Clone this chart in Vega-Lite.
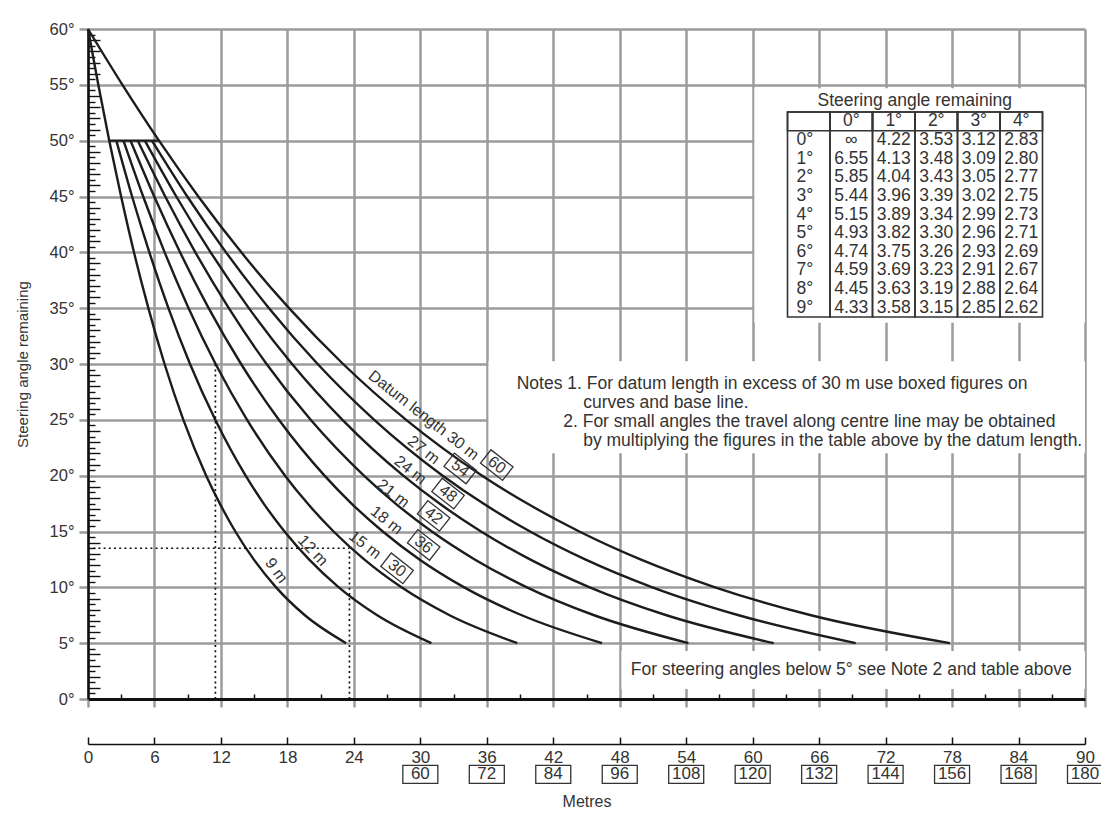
{
  "$schema": "https://vega.github.io/schema/vega-lite/v6.json",
  "width": 997,
  "height": 670,
  "autosize": {"type": "none"},
  "padding": {"left": 88, "top": 29, "right": 16, "bottom": 129},
  "background": "white",
  "config": {
    "view": {"stroke": null},
    "font": "Liberation Sans",
    "text": {"font": "Liberation Sans", "color": "#333"},
    "axis": {"labelFont": "Liberation Sans", "titleFont": "Liberation Sans"}
  },
  "datasets": {
    "curves": [
      {"L": "9 m", "m": 0, "a": 60}, {"L": "9 m", "m": 0.93, "a": 55}, {"L": "9 m", "m": 1.92, "a": 50}, {"L": "9 m", "m": 2.99, "a": 45}, {"L": "9 m", "m": 4.15, "a": 40}, {"L": "9 m", "m": 5.45, "a": 35}, {"L": "9 m", "m": 6.91, "a": 30}, {"L": "9 m", "m": 8.61, "a": 25}, {"L": "9 m", "m": 10.67, "a": 20}, {"L": "9 m", "m": 11.9, "a": 17.5}, {"L": "9 m", "m": 13.3, "a": 15}, {"L": "9 m", "m": 14.96, "a": 12.5}, {"L": "9 m", "m": 16.98, "a": 10}, {"L": "9 m", "m": 19.58, "a": 7.5}, {"L": "9 m", "m": 23.3, "a": 5},
      {"L": "12 m", "m": 2.56, "a": 50}, {"L": "12 m", "m": 3.98, "a": 45}, {"L": "12 m", "m": 5.54, "a": 40}, {"L": "12 m", "m": 7.26, "a": 35}, {"L": "12 m", "m": 9.21, "a": 30}, {"L": "12 m", "m": 11.49, "a": 25}, {"L": "12 m", "m": 14.23, "a": 20}, {"L": "12 m", "m": 15.86, "a": 17.5}, {"L": "12 m", "m": 17.74, "a": 15}, {"L": "12 m", "m": 19.95, "a": 12.5}, {"L": "12 m", "m": 22.64, "a": 10}, {"L": "12 m", "m": 26.11, "a": 7.5}, {"L": "12 m", "m": 31.0, "a": 5},
      {"L": "15 m", "m": 3.2, "a": 50}, {"L": "15 m", "m": 4.98, "a": 45}, {"L": "15 m", "m": 6.92, "a": 40}, {"L": "15 m", "m": 9.08, "a": 35}, {"L": "15 m", "m": 11.52, "a": 30}, {"L": "15 m", "m": 14.36, "a": 25}, {"L": "15 m", "m": 17.79, "a": 20}, {"L": "15 m", "m": 19.83, "a": 17.5}, {"L": "15 m", "m": 22.17, "a": 15}, {"L": "15 m", "m": 24.93, "a": 12.5}, {"L": "15 m", "m": 28.3, "a": 10}, {"L": "15 m", "m": 32.64, "a": 7.5}, {"L": "15 m", "m": 38.75, "a": 5},
      {"L": "18 m", "m": 3.84, "a": 50}, {"L": "18 m", "m": 5.98, "a": 45}, {"L": "18 m", "m": 8.31, "a": 40}, {"L": "18 m", "m": 10.89, "a": 35}, {"L": "18 m", "m": 13.82, "a": 30}, {"L": "18 m", "m": 17.23, "a": 25}, {"L": "18 m", "m": 21.35, "a": 20}, {"L": "18 m", "m": 23.79, "a": 17.5}, {"L": "18 m", "m": 26.61, "a": 15}, {"L": "18 m", "m": 29.92, "a": 12.5}, {"L": "18 m", "m": 33.96, "a": 10}, {"L": "18 m", "m": 39.16, "a": 7.5}, {"L": "18 m", "m": 46.4, "a": 5},
      {"L": "21 m", "m": 4.49, "a": 50}, {"L": "21 m", "m": 6.97, "a": 45}, {"L": "21 m", "m": 9.69, "a": 40}, {"L": "21 m", "m": 12.71, "a": 35}, {"L": "21 m", "m": 16.12, "a": 30}, {"L": "21 m", "m": 20.1, "a": 25}, {"L": "21 m", "m": 24.91, "a": 20}, {"L": "21 m", "m": 27.76, "a": 17.5}, {"L": "21 m", "m": 31.04, "a": 15}, {"L": "21 m", "m": 34.91, "a": 12.5}, {"L": "21 m", "m": 39.62, "a": 10}, {"L": "21 m", "m": 45.69, "a": 7.5}, {"L": "21 m", "m": 54.2, "a": 5},
      {"L": "24 m", "m": 5.13, "a": 50}, {"L": "24 m", "m": 7.97, "a": 45}, {"L": "24 m", "m": 11.07, "a": 40}, {"L": "24 m", "m": 14.52, "a": 35}, {"L": "24 m", "m": 18.42, "a": 30}, {"L": "24 m", "m": 22.97, "a": 25}, {"L": "24 m", "m": 28.46, "a": 20}, {"L": "24 m", "m": 31.73, "a": 17.5}, {"L": "24 m", "m": 35.48, "a": 15}, {"L": "24 m", "m": 39.9, "a": 12.5}, {"L": "24 m", "m": 45.29, "a": 10}, {"L": "24 m", "m": 52.22, "a": 7.5}, {"L": "24 m", "m": 61.9, "a": 5},
      {"L": "27 m", "m": 5.77, "a": 50}, {"L": "27 m", "m": 8.96, "a": 45}, {"L": "27 m", "m": 12.46, "a": 40}, {"L": "27 m", "m": 16.34, "a": 35}, {"L": "27 m", "m": 20.73, "a": 30}, {"L": "27 m", "m": 25.84, "a": 25}, {"L": "27 m", "m": 32.02, "a": 20}, {"L": "27 m", "m": 35.69, "a": 17.5}, {"L": "27 m", "m": 39.91, "a": 15}, {"L": "27 m", "m": 44.88, "a": 12.5}, {"L": "27 m", "m": 50.95, "a": 10}, {"L": "27 m", "m": 58.74, "a": 7.5}, {"L": "27 m", "m": 69.3, "a": 5},
      {"L": "30 m", "m": 0, "a": 60}, {"L": "30 m", "m": 3.11, "a": 55}, {"L": "30 m", "m": 6.41, "a": 50}, {"L": "30 m", "m": 9.96, "a": 45}, {"L": "30 m", "m": 13.84, "a": 40}, {"L": "30 m", "m": 18.15, "a": 35}, {"L": "30 m", "m": 23.03, "a": 30}, {"L": "30 m", "m": 28.72, "a": 25}, {"L": "30 m", "m": 35.58, "a": 20}, {"L": "30 m", "m": 39.66, "a": 17.5}, {"L": "30 m", "m": 44.35, "a": 15}, {"L": "30 m", "m": 49.87, "a": 12.5}, {"L": "30 m", "m": 56.61, "a": 10}, {"L": "30 m", "m": 65.27, "a": 7.5}, {"L": "30 m", "m": 77.8, "a": 5}
    ],
    "bar50": [{"x0": 1.92, "x1": 6.41, "a": 50}],
    "dotted": [
      {"x0": 11.5, "x1": 11.5, "y0": 0, "y1": 30},
      {"x0": 23.6, "x1": 23.6, "y0": 0, "y1": 13.5},
      {"x0": 0, "x1": 23.6, "y0": 13.5, "y1": 13.5}
    ],
    "masks": [
      {"x0": 60.15, "x1": 90, "y0": 33.7, "y1": 54.7},
      {"x0": 36.15, "x1": 90, "y0": 22.0, "y1": 30.25},
      {"x0": 48.15, "x1": 90, "y0": 0.9, "y1": 4.3}
    ],
    "curveNames": [
      {"t": "Datum length 30 m", "m": 30.3, "a": 25.4},
      {"t": "27 m", "m": 30.3, "a": 22.3},
      {"t": "24 m", "m": 29.1, "a": 20.5},
      {"t": "21 m", "m": 27.55, "a": 18.4},
      {"t": "18 m", "m": 26.95, "a": 16.0},
      {"t": "15 m", "m": 25.0, "a": 13.8},
      {"t": "12 m", "m": 20.3, "a": 13.3},
      {"t": "9 m", "m": 17.0, "a": 11.5}
    ],
    "curveBoxes": [
      {"t": "60", "m": 36.9, "a": 20.95},
      {"t": "54", "m": 33.6, "a": 20.65},
      {"t": "48", "m": 32.5, "a": 18.4},
      {"t": "42", "m": 31.2, "a": 16.4},
      {"t": "36", "m": 30.3, "a": 13.8},
      {"t": "30", "m": 27.9, "a": 11.7}
    ],
    "baseBoxes": [
      {"m": 30, "t": "60"}, {"m": 36, "t": "72"}, {"m": 42, "t": "84"}, {"m": 48, "t": "96"}, {"m": 54, "t": "108"}, {"m": 60, "t": "120"}, {"m": 66, "t": "132"}, {"m": 72, "t": "144"}, {"m": 78, "t": "156"}, {"m": 84, "t": "168"}, {"m": 90, "t": "180"}
    ],
    "notes": [
      {"t": "Notes 1. For datum length in excess of 30 m use boxed figures on", "m": 38.7, "a": 28.2},
      {"t": "curves and base line.", "m": 44.7, "a": 26.5},
      {"t": "2. For small angles the travel along centre line may be obtained", "m": 42.9, "a": 24.8},
      {"t": "by multiplying the figures in the table above by the datum length.", "m": 44.7, "a": 23.1},
      {"t": "For steering angles below 5° see Note 2 and table above", "m": 49.0, "a": 2.6}
    ],
    "tableTitle": [{"t": "Steering angle remaining"}],
    "table": [
      {"row": "0°", "0°": "∞", "1°": "4.22", "2°": "3.53", "3°": "3.12", "4°": "2.83"},
      {"row": "1°", "0°": "6.55", "1°": "4.13", "2°": "3.48", "3°": "3.09", "4°": "2.80"},
      {"row": "2°", "0°": "5.85", "1°": "4.04", "2°": "3.43", "3°": "3.05", "4°": "2.77"},
      {"row": "3°", "0°": "5.44", "1°": "3.96", "2°": "3.39", "3°": "3.02", "4°": "2.75"},
      {"row": "4°", "0°": "5.15", "1°": "3.89", "2°": "3.34", "3°": "2.99", "4°": "2.73"},
      {"row": "5°", "0°": "4.93", "1°": "3.82", "2°": "3.30", "3°": "2.96", "4°": "2.71"},
      {"row": "6°", "0°": "4.74", "1°": "3.75", "2°": "3.26", "3°": "2.93", "4°": "2.69"},
      {"row": "7°", "0°": "4.59", "1°": "3.69", "2°": "3.23", "3°": "2.91", "4°": "2.67"},
      {"row": "8°", "0°": "4.45", "1°": "3.63", "2°": "3.19", "3°": "2.88", "4°": "2.64"},
      {"row": "9°", "0°": "4.33", "1°": "3.58", "2°": "3.15", "3°": "2.85", "4°": "2.62"}
    ],
    "tableCols": [{"c": "lab"}, {"c": "0°"}, {"c": "1°"}, {"c": "2°"}, {"c": "3°"}, {"c": "4°"}],
    "tableHeads": [{"c": "0°"}, {"c": "1°"}, {"c": "2°"}, {"c": "3°"}, {"c": "4°"}]
  },
  "layer": [
    {
      "layer": [
        {
          "data": {"name": "masks"},
          "mark": {"type": "rect", "fill": "white"},
          "encoding": {
            "x": {"field": "x0", "type": "quantitative", "scale": {"domain": [0, 90], "nice": false, "zero": false},
              "axis": {"orient": "bottom", "values": [0, 6, 12, 18, 24, 30, 36, 42, 48, 54, 60, 66, 72, 78, 84, 90], "grid": true, "gridColor": "#9b9b9b", "gridWidth": 2.5, "ticks": true, "tickSize": 8, "tickColor": "#9b9b9b", "tickWidth": 2.5, "labels": false, "domain": true, "domainColor": "#111", "domainWidth": 3, "title": null}},
            "x2": {"field": "x1"},
            "y": {"field": "y0", "type": "quantitative", "scale": {"domain": [0, 60], "nice": false, "zero": false},
              "axis": {"orient": "left", "values": [0, 5, 10, 15, 20, 25, 30, 35, 40, 45, 50, 55, 60], "grid": true, "gridColor": "#9b9b9b", "gridWidth": 2.5, "tickSize": 9, "tickColor": "#9b9b9b", "tickWidth": 2.5, "domain": true, "domainColor": "#111", "domainWidth": 2.5, "labelExpr": "datum.value + '°'", "labelFontSize": 16.5, "labelColor": "#333", "labelPadding": 5, "title": "Steering angle remaining", "titleFontSize": 15, "titleFontWeight": "normal", "titleColor": "#333", "titlePadding": 19}},
            "y2": {"field": "y1"}
          }
        },
        {
          "data": {"name": "curves"},
          "mark": {"type": "line", "stroke": "#1c1c1c", "strokeWidth": 2.4, "interpolate": "monotone"},
          "encoding": {
            "x": {"field": "m", "type": "quantitative", "scale": {"domain": [0, 90], "nice": false, "zero": false},
              "axis": {"orient": "bottom", "values": [3, 9, 15, 21, 27, 33, 39, 45, 51, 57, 63, 69, 75, 81, 87], "grid": false, "domain": false, "labels": false, "tickSize": -5, "tickColor": "#111", "tickWidth": 1.5, "title": null}},
            "y": {"field": "a", "type": "quantitative", "scale": {"domain": [0, 60], "nice": false, "zero": false},
              "axis": {"orient": "left", "values": [0.5,1,1.5,2,2.5,3,3.5,4,4.5,5.5,6,6.5,7,7.5,8,8.5,9,9.5,10.5,11,11.5,12,12.5,13,13.5,14,14.5,15.5,16,16.5,17,17.5,18,18.5,19,19.5,20.5,21,21.5,22,22.5,23,23.5,24,24.5,25.5,26,26.5,27,27.5,28,28.5,29,29.5,30.5,31,31.5,32,32.5,33,33.5,34,34.5,35.5,36,36.5,37,37.5,38,38.5,39,39.5,40.5,41,41.5,42,42.5,43,43.5,44,44.5,45.5,46,46.5,47,47.5,48,48.5,49,49.5,50.5,51,51.5,52,52.5,53,53.5,54,54.5,55.5,56,56.5,57,57.5,58,58.5,59,59.5], "grid": false, "domain": false, "labels": false, "tickSize": {"condition": {"test": "datum.value % 1 === 0", "value": -12}, "value": -7}, "tickColor": "#111", "tickWidth": 1.4, "title": null}},
            "detail": {"field": "L", "type": "nominal"}
          }
        },
        {
          "data": {"name": "bar50"},
          "mark": {"type": "rule", "stroke": "#1c1c1c", "strokeWidth": 2.4},
          "encoding": {
            "x": {"field": "x0", "type": "quantitative", "scale": {"domain": [0, 90], "nice": false, "zero": false},
              "axis": {"orient": "bottom", "offset": 45, "values": [0, 6, 12, 18, 24, 30, 36, 42, 48, 54, 60, 66, 72, 78, 84, 90], "grid": false, "domain": true, "domainColor": "#111", "domainWidth": 1.5, "tickSize": -7, "tickColor": "#111", "tickWidth": 1.5, "labels": true, "labelFlush": false, "labelOverlap": false, "labelFontSize": 17, "labelColor": "#333", "labelPadding": 12, "title": "Metres", "titleFontSize": 16, "titleFontWeight": "normal", "titleColor": "#333", "titlePadding": 28}},
            "x2": {"field": "x1"},
            "y": {"field": "a", "type": "quantitative", "scale": {"domain": [0, 60], "nice": false, "zero": false}, "axis": null}
          }
        },
        {
          "data": {"name": "dotted"},
          "mark": {"type": "rule", "stroke": "#111", "strokeWidth": 1.7, "strokeDash": [2, 3.2]},
          "encoding": {
            "x": {"field": "x0", "type": "quantitative", "scale": {"domain": [0, 90], "nice": false, "zero": false}, "axis": null},
            "x2": {"field": "x1"},
            "y": {"field": "y0", "type": "quantitative", "scale": {"domain": [0, 60], "nice": false, "zero": false}, "axis": null},
            "y2": {"field": "y1"}
          }
        },
        {
          "mark": {"type": "rule", "stroke": "#222", "strokeWidth": 1.6},
          "encoding": {
            "x": {"datum": 90, "type": "quantitative", "scale": {"domain": [0, 90], "nice": false, "zero": false}, "axis": null},
            "y": {"datum": 0, "type": "quantitative", "scale": {"domain": [0, 60], "nice": false, "zero": false}, "axis": null},
            "y2": {"datum": 61.95}
          }
        },
        {
          "mark": {"type": "rule", "stroke": "#000", "strokeWidth": 5},
          "encoding": {
            "x": {"datum": -7.1, "type": "quantitative", "scale": {"domain": [0, 90], "nice": false, "zero": false}, "axis": null},
            "y": {"datum": 62.2, "type": "quantitative", "scale": {"domain": [0, 60], "nice": false, "zero": false}, "axis": null},
            "y2": {"datum": -11.7}
          }
        },
        {
          "mark": {"type": "rule", "stroke": "#000", "strokeWidth": 4.5},
          "encoding": {
            "x": {"datum": -7.35, "type": "quantitative", "scale": {"domain": [0, 90], "nice": false, "zero": false}, "axis": null},
            "x2": {"datum": 91.6},
            "y": {"datum": 61.95, "type": "quantitative", "scale": {"domain": [0, 60], "nice": false, "zero": false}, "axis": null}
          }
        },
        {
          "data": {"name": "curveNames"},
          "transform": [{"filter": "datum.t !== '12 m' && datum.t !== '9 m'"}],
          "mark": {"type": "text", "angle": 38, "fontSize": 16, "color": "#333", "align": "center", "baseline": "middle"},
          "encoding": {
            "x": {"field": "m", "type": "quantitative", "scale": {"domain": [0, 90], "nice": false, "zero": false}, "axis": null},
            "y": {"field": "a", "type": "quantitative", "scale": {"domain": [0, 60], "nice": false, "zero": false}, "axis": null},
            "text": {"field": "t"}
          }
        },
        {
          "data": {"name": "curveNames"},
          "transform": [{"filter": "datum.t === '12 m'"}],
          "mark": {"type": "text", "angle": 47, "fontSize": 16, "color": "#333", "align": "center", "baseline": "middle"},
          "encoding": {
            "x": {"field": "m", "type": "quantitative", "scale": {"domain": [0, 90], "nice": false, "zero": false}, "axis": null},
            "y": {"field": "a", "type": "quantitative", "scale": {"domain": [0, 60], "nice": false, "zero": false}, "axis": null},
            "text": {"field": "t"}
          }
        },
        {
          "data": {"name": "curveNames"},
          "transform": [{"filter": "datum.t === '9 m'"}],
          "mark": {"type": "text", "angle": 54, "fontSize": 16, "color": "#333", "align": "center", "baseline": "middle"},
          "encoding": {
            "x": {"field": "m", "type": "quantitative", "scale": {"domain": [0, 90], "nice": false, "zero": false}, "axis": null},
            "y": {"field": "a", "type": "quantitative", "scale": {"domain": [0, 60], "nice": false, "zero": false}, "axis": null},
            "text": {"field": "t"}
          }
        },
        {
          "data": {"name": "curveBoxes"},
          "mark": {"type": "point", "shape": "M-1,-0.607L1,-0.607L1,0.607L-1,0.607Z", "size": 784, "angle": 38, "filled": false, "stroke": "#333", "strokeWidth": 1.3, "opacity": 1},
          "encoding": {
            "x": {"field": "m", "type": "quantitative", "scale": {"domain": [0, 90], "nice": false, "zero": false}, "axis": null},
            "y": {"field": "a", "type": "quantitative", "scale": {"domain": [0, 60], "nice": false, "zero": false}, "axis": null}
          }
        },
        {
          "data": {"name": "curveBoxes"},
          "mark": {"type": "text", "angle": 38, "fontSize": 16, "color": "#333", "align": "center", "baseline": "middle"},
          "encoding": {
            "x": {"field": "m", "type": "quantitative", "scale": {"domain": [0, 90], "nice": false, "zero": false}, "axis": null},
            "y": {"field": "a", "type": "quantitative", "scale": {"domain": [0, 60], "nice": false, "zero": false}, "axis": null},
            "text": {"field": "t"}
          }
        },
        {
          "data": {"name": "baseBoxes"},
          "mark": {"type": "point", "shape": "M-1,-0.514L1,-0.514L1,0.514L-1,0.514Z", "size": 1225, "filled": false, "stroke": "#333", "strokeWidth": 1.3, "opacity": 1},
          "encoding": {
            "x": {"field": "m", "type": "quantitative", "scale": {"domain": [0, 90], "nice": false, "zero": false}, "axis": null},
            "y": {"datum": -6.75, "type": "quantitative", "scale": {"domain": [0, 60], "nice": false, "zero": false}, "axis": null}
          }
        },
        {
          "data": {"name": "baseBoxes"},
          "mark": {"type": "text", "fontSize": 17, "color": "#333", "align": "center", "baseline": "middle"},
          "encoding": {
            "x": {"field": "m", "type": "quantitative", "scale": {"domain": [0, 90], "nice": false, "zero": false}, "axis": null},
            "y": {"datum": -6.75, "type": "quantitative", "scale": {"domain": [0, 60], "nice": false, "zero": false}, "axis": null},
            "text": {"field": "t"}
          }
        },
        {
          "data": {"name": "notes"},
          "mark": {"type": "text", "fontSize": 17.5, "color": "#333", "align": "left", "baseline": "middle"},
          "encoding": {
            "x": {"field": "m", "type": "quantitative", "scale": {"domain": [0, 90], "nice": false, "zero": false}, "axis": null},
            "y": {"field": "a", "type": "quantitative", "scale": {"domain": [0, 60], "nice": false, "zero": false}, "axis": null},
            "text": {"field": "t"}
          }
        }
      ],
      "resolve": {"axis": {"x": "independent", "y": "independent"}}
    },
    {
      "layer": [
        {
          "data": {"name": "tableTitle"},
          "mark": {"type": "text", "fontSize": 17.5, "color": "#333", "align": "center", "baseline": "middle", "dx": 21, "dy": -2},
          "encoding": {
            "x": {"datum": "1°", "type": "nominal", "scale": {"type": "band", "domain": ["_1","_2","_3","_4","_5","_6","_7","_8","_9","_10","_11","_12","_13","_14","_15","lab","0°","1°","2°","3°","4°","end"], "paddingInner": 0, "paddingOuter": 0.7295, "align": 1}, "axis": null},
            "y": {"datum": "ttl", "type": "nominal", "scale": {"type": "band", "domain": ["_a","_b","_c","ttl","hdr","0°","1°","2°","3°","4°","5°","6°","7°","8°","9°","_d1","_d2","_d3","_d4","_d5","_d6","_d7","_d8","_d9","_d10","_d11","_d12","_d13","_d14","_d15","_d16","_d17","_d18","_d19","_d20"], "paddingInner": 0, "paddingOuter": 0.472, "align": 0.482}, "axis": null},
            "text": {"field": "t"}
          }
        },
        {
          "data": {"name": "table"},
          "transform": [{"fold": ["0°", "1°", "2°", "3°", "4°"], "as": ["col", "v"]}],
          "mark": {"type": "text", "fontSize": 17.5, "color": "#333", "align": "center", "baseline": "middle"},
          "encoding": {
            "x": {"field": "col", "type": "nominal", "scale": {"type": "band", "domain": ["_1","_2","_3","_4","_5","_6","_7","_8","_9","_10","_11","_12","_13","_14","_15","lab","0°","1°","2°","3°","4°","end"], "paddingInner": 0, "paddingOuter": 0.7295, "align": 1}, "axis": null},
            "y": {"field": "row", "type": "nominal", "scale": {"type": "band", "domain": ["_a","_b","_c","ttl","hdr","0°","1°","2°","3°","4°","5°","6°","7°","8°","9°","_d1","_d2","_d3","_d4","_d5","_d6","_d7","_d8","_d9","_d10","_d11","_d12","_d13","_d14","_d15","_d16","_d17","_d18","_d19","_d20"], "paddingInner": 0, "paddingOuter": 0.472, "align": 0.482}, "axis": null},
            "text": {"field": "v"}
          }
        },
        {
          "data": {"name": "table"},
          "mark": {"type": "text", "fontSize": 17.5, "color": "#333", "align": "center", "baseline": "middle", "dx": -4},
          "encoding": {
            "x": {"datum": "lab", "type": "nominal", "scale": {"type": "band", "domain": ["_1","_2","_3","_4","_5","_6","_7","_8","_9","_10","_11","_12","_13","_14","_15","lab","0°","1°","2°","3°","4°","end"], "paddingInner": 0, "paddingOuter": 0.7295, "align": 1}, "axis": null},
            "y": {"field": "row", "type": "nominal", "scale": {"type": "band", "domain": ["_a","_b","_c","ttl","hdr","0°","1°","2°","3°","4°","5°","6°","7°","8°","9°","_d1","_d2","_d3","_d4","_d5","_d6","_d7","_d8","_d9","_d10","_d11","_d12","_d13","_d14","_d15","_d16","_d17","_d18","_d19","_d20"], "paddingInner": 0, "paddingOuter": 0.472, "align": 0.482}, "axis": null},
            "text": {"field": "row"}
          }
        },
        {
          "data": {"name": "tableHeads"},
          "mark": {"type": "text", "fontSize": 17.5, "color": "#333", "align": "center", "baseline": "middle"},
          "encoding": {
            "x": {"field": "c", "type": "nominal", "scale": {"type": "band", "domain": ["_1","_2","_3","_4","_5","_6","_7","_8","_9","_10","_11","_12","_13","_14","_15","lab","0°","1°","2°","3°","4°","end"], "paddingInner": 0, "paddingOuter": 0.7295, "align": 1}, "axis": null},
            "y": {"datum": "hdr", "type": "nominal", "scale": {"type": "band", "domain": ["_a","_b","_c","ttl","hdr","0°","1°","2°","3°","4°","5°","6°","7°","8°","9°","_d1","_d2","_d3","_d4","_d5","_d6","_d7","_d8","_d9","_d10","_d11","_d12","_d13","_d14","_d15","_d16","_d17","_d18","_d19","_d20"], "paddingInner": 0, "paddingOuter": 0.472, "align": 0.482}, "axis": null},
            "text": {"field": "c"}
          }
        },
        {
          "data": {"name": "tableCols"},
          "mark": {"type": "rect", "filled": false, "stroke": "#333", "strokeWidth": 1.6},
          "encoding": {
            "x": {"field": "c", "type": "nominal", "scale": {"type": "band", "domain": ["_1","_2","_3","_4","_5","_6","_7","_8","_9","_10","_11","_12","_13","_14","_15","lab","0°","1°","2°","3°","4°","end"], "paddingInner": 0, "paddingOuter": 0.7295, "align": 1}, "axis": null},
            "y": {"datum": "hdr", "type": "nominal", "scale": {"type": "band", "domain": ["_a","_b","_c","ttl","hdr","0°","1°","2°","3°","4°","5°","6°","7°","8°","9°","_d1","_d2","_d3","_d4","_d5","_d6","_d7","_d8","_d9","_d10","_d11","_d12","_d13","_d14","_d15","_d16","_d17","_d18","_d19","_d20"], "paddingInner": 0, "paddingOuter": 0.472, "align": 0.482}, "axis": null}
          }
        }
      ]
    },
    {
      "data": {"name": "tableCols"},
      "mark": {"type": "rect", "filled": false, "stroke": "#333", "strokeWidth": 1.6},
      "encoding": {
        "x": {"field": "c", "type": "nominal", "scale": {"type": "band", "domain": ["_1","_2","_3","_4","_5","_6","_7","_8","_9","_10","_11","_12","_13","_14","_15","lab","0°","1°","2°","3°","4°","end"], "paddingInner": 0, "paddingOuter": 0.7295, "align": 1}, "axis": null},
        "y": {"datum": "tbl", "type": "nominal", "scale": {"type": "band", "domain": ["tbl", "_z"], "paddingInner": 0, "paddingOuter": 0.634, "align": 0.319}, "axis": null}
      }
    }
  ],
  "resolve": {"scale": {"x": "independent", "y": "independent"}, "axis": {"x": "independent", "y": "independent"}}
}
